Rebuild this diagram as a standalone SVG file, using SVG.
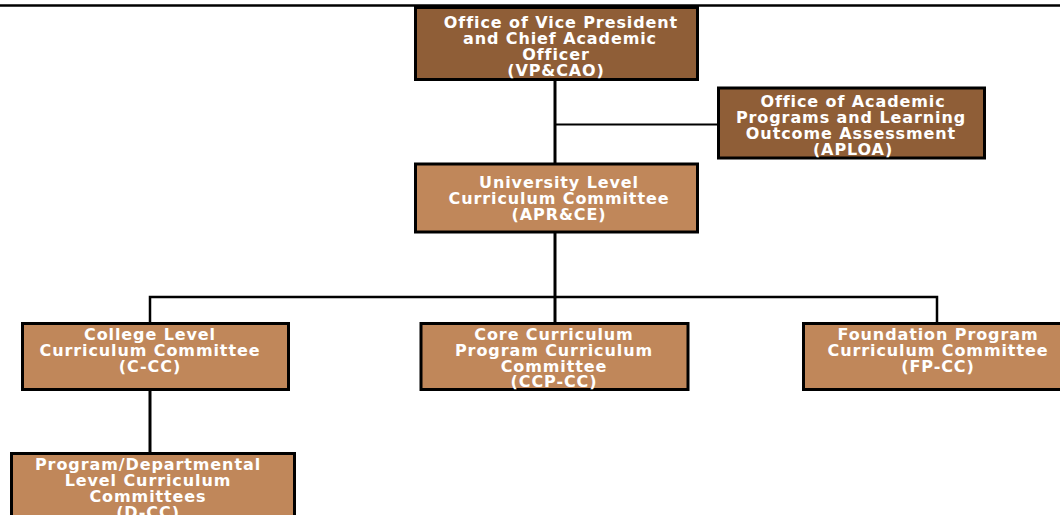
<svg xmlns="http://www.w3.org/2000/svg" width="1060" height="515" viewBox="0 0 1060 515">
<style>
.dark{fill:#8F5E37;stroke:#000;stroke-width:3}
.light{fill:#C0875A;stroke:#000;stroke-width:3}
text{font-family:"DejaVu Sans",Verdana,sans-serif;font-weight:bold;font-size:16px;letter-spacing:0.9px;fill:#fff;text-anchor:middle}
.c{stroke:#000;fill:none}
</style>
<rect width="1060" height="515" fill="#fff"/>
<line x1="0" y1="5.5" x2="1060" y2="5.5" stroke="#000" stroke-width="2.5"/>
<g id="connectors">
<line class="c" x1="555" y1="80" x2="555" y2="163" stroke-width="3"/>
<line class="c" x1="555" y1="124.5" x2="718" y2="124.5" stroke-width="2"/>
<line class="c" x1="555" y1="232" x2="555" y2="323" stroke-width="3"/>
<polyline class="c" points="150,323 150,297 937,297 937,323" stroke-width="2.5"/>
<line class="c" x1="150" y1="389" x2="150" y2="453" stroke-width="3"/>
</g>
<g id="vpcao">
<rect class="dark" x="415.5" y="7.5" width="282" height="72"/>
<text x="561" y="28">Office of Vice President</text>
<text x="560" y="44">and Chief Academic</text>
<text x="556" y="60">Officer</text>
<text x="556" y="76">(VP&amp;CAO)</text>
</g>
<g id="aploa">
<rect class="dark" x="718.5" y="88" width="266" height="70"/>
<text x="853" y="107">Office of Academic</text>
<text x="851" y="123">Programs and Learning</text>
<text x="851" y="139">Outcome Assessment</text>
<text x="853" y="155">(APLOA)</text>
</g>
<g id="aprce">
<rect class="light" x="415.5" y="164" width="282" height="68"/>
<text x="559" y="188">University Level</text>
<text x="559" y="204">Curriculum Committee</text>
<text x="559" y="220">(APR&amp;CE)</text>
</g>
<g id="ccc">
<rect class="light" x="22.5" y="323.5" width="266" height="66"/>
<text x="150" y="340">College Level</text>
<text x="150" y="356">Curriculum Committee</text>
<text x="150" y="372">(C-CC)</text>
</g>
<g id="ccpcc">
<rect class="light" x="421" y="323.5" width="267" height="66"/>
<text x="554" y="340">Core Curriculum</text>
<text x="554" y="356">Program Curriculum</text>
<text x="554" y="372">Committee</text>
<text x="554" y="387">(CCP-CC)</text>
</g>
<g id="fpcc">
<rect class="light" x="803.5" y="323.5" width="270" height="66"/>
<text x="938" y="340">Foundation Program</text>
<text x="938" y="356">Curriculum Committee</text>
<text x="938" y="372">(FP-CC)</text>
</g>
<g id="dcc">
<rect class="light" x="11.5" y="453.5" width="283" height="70"/>
<text x="148" y="470">Program/Departmental</text>
<text x="148" y="486">Level Curriculum</text>
<text x="148" y="502">Committees</text>
<text x="148" y="518">(D-CC)</text>
</g>
</svg>
